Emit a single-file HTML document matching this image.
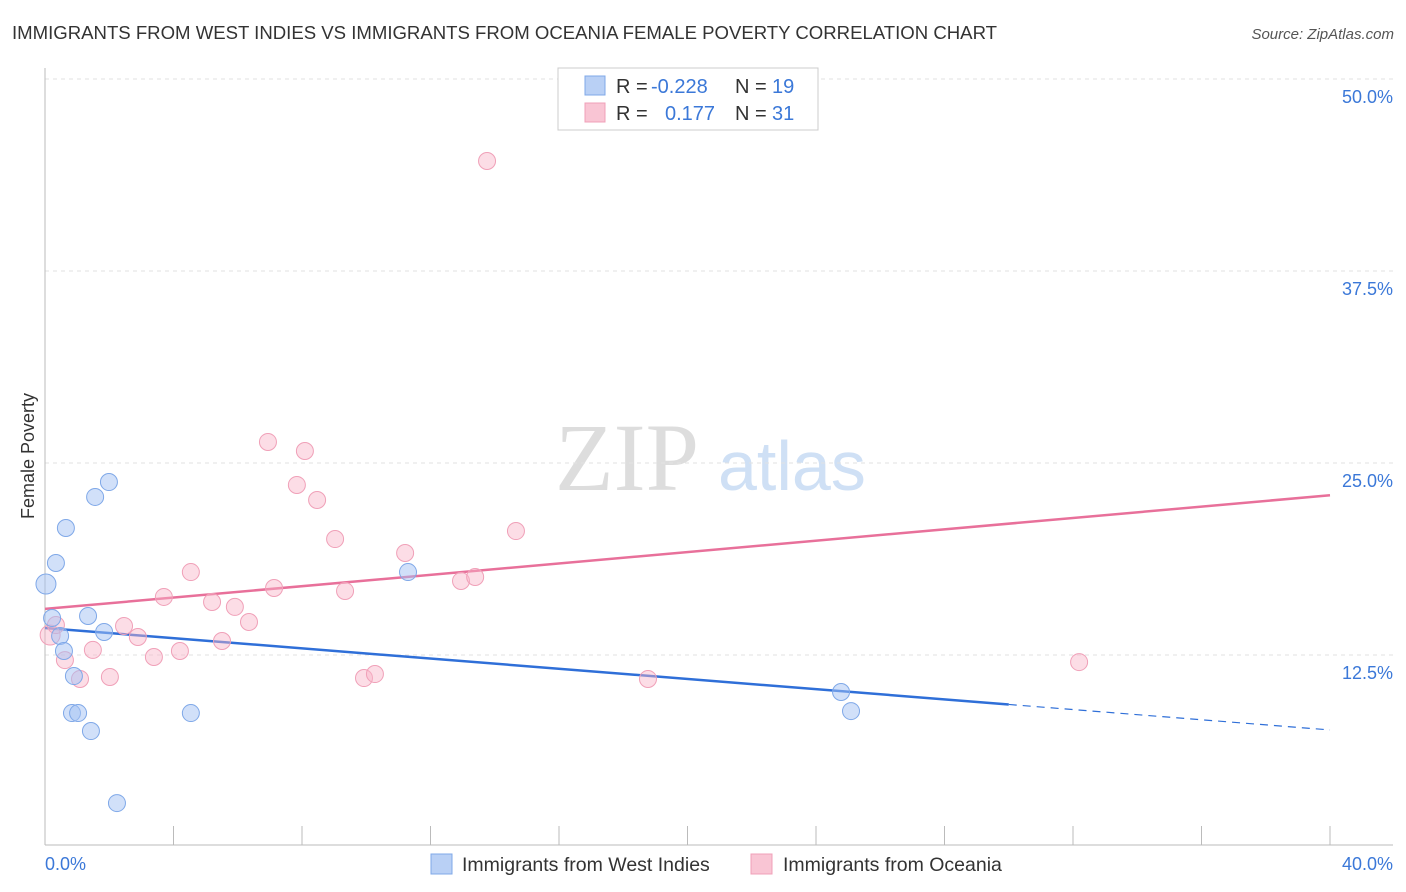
<!DOCTYPE html>
<html><head><meta charset="utf-8"><style>
body{margin:0;background:#fff;font-family:"Liberation Sans",sans-serif}
svg{display:block}
</style></head><body>
<svg id="c" width="1406" height="892">
<text x="12" y="39" font-size="18.6" fill="#333" textLength="985">IMMIGRANTS FROM WEST INDIES VS IMMIGRANTS FROM OCEANIA FEMALE POVERTY CORRELATION CHART</text>
<text x="1394" y="39" font-size="15" fill="#555" font-style="italic" text-anchor="end">Source: ZipAtlas.com</text>
<text x="0" y="0" transform="translate(34,456) rotate(-90)" font-size="18" fill="#333" text-anchor="middle">Female Poverty</text>
<g><text x="555" y="490" font-size="96" font-family="Liberation Serif,serif" fill="#ddd">ZIP</text><text x="718" y="490" font-size="70" fill="#cfe0f5">atlas</text></g>
<g id="grid"></g><g id="axes"></g><g id="lines"></g><g id="pts"></g>
<g>
<rect x="558" y="68" width="260" height="62" fill="#fff" stroke="#ccc"/>
<rect x="585" y="76" width="20" height="19" fill="#b9d0f5" stroke="#7fa8e8"/>
<rect x="585" y="103" width="20" height="19" fill="#f9c5d4" stroke="#f0a0b8"/>
<text y="93" font-size="20" fill="#333"><tspan x="616">R = </tspan><tspan x="651" fill="#3b78d8">-0.228</tspan><tspan x="735">N = </tspan><tspan x="772" fill="#3b78d8">19</tspan></text>
<text y="120" font-size="20" fill="#333"><tspan x="616">R = </tspan><tspan x="665" fill="#3b78d8">0.177</tspan><tspan x="735">N = </tspan><tspan x="772" fill="#3b78d8">31</tspan></text>
</g>
<g>
<rect x="431" y="854" width="21" height="20" fill="#b9d0f5" stroke="#7fa8e8"/>
<text x="462" y="871" font-size="19.5" fill="#333">Immigrants from West Indies</text>
<rect x="751" y="854" width="21" height="20" fill="#f9c5d4" stroke="#f0a0b8"/>
<text x="783" y="871" font-size="19.5" fill="#333">Immigrants from Oceania</text>
</g>
</svg>
<script>
const yTicks=[12.5,25,37.5,50];
const xTickLabels=["0.0%","40.0%"];
const blueX=[0.03,0.22,0.34,0.47,0.59,0.65,0.90,0.84,1.03,1.34,1.43,1.56,1.84,1.99,2.24,4.54,11.30,24.78,25.09];
const blueY=[17.12,14.91,18.49,13.74,12.76,20.77,11.13,8.72,8.72,15.04,7.55,22.79,14.0,23.76,2.86,8.72,17.9,10.09,8.85];
const pinkX=[0.16,0.34,0.62,1.09,1.49,2.02,2.46,2.89,3.39,3.70,4.20,4.54,5.20,5.51,5.91,6.35,6.94,7.13,7.84,8.09,8.47,9.03,9.34,9.93,10.27,11.21,12.95,13.39,13.76,14.66,18.77,32.19];
const pinkY=[13.8,14.45,12.17,10.94,12.83,11.07,14.39,13.67,12.37,16.28,12.76,17.9,15.95,13.41,15.63,14.65,26.37,16.86,23.57,25.78,22.59,20.05,16.67,11.0,11.26,19.14,17.32,17.58,44.66,20.57,10.94,12.04];
const blueTrend=[14.26,7.62];
const pinkTrend=[15.5,22.9];
const blueSolidEnd=30;
const NS="http://www.w3.org/2000/svg";
const X=v=>45+v*32.125, Y=v=>847-v*15.36;
function mk(t,a,p){const e=document.createElementNS(NS,t);for(const k in a)e.setAttribute(k,a[k]);document.getElementById(p).appendChild(e);return e;}
yTicks.forEach(t=>{
 const l=mk('line',{x1:45,x2:1393,y1:Y(t),y2:Y(t),stroke:'#e2e2e2','stroke-dasharray':'4,4'},'grid');
 
 
 const tx=mk('text',{x:1393,y:Y(t)+24,'font-size':18,fill:'#3b78d8','text-anchor':'end'},'grid');tx.textContent=t.toFixed(1)+'%';
 
 
});
const ax=mk('line',{x1:45,x2:45,y1:68,y2:845,stroke:'#bbb'},'axes');


const bx=mk('line',{x1:45,x2:1393,y1:845,y2:845,stroke:'#bbb'},'axes');


for(let i=0;i<=10;i++){const t=mk('line',{x1:X(i*4),x2:X(i*4),y1:826,y2:845,stroke:'#bbb'},'axes');
 
 }
[[0,'start',45],[40,'end',1393]].forEach((d,i)=>{const t=mk('text',{x:d[2],y:870,'font-size':18,fill:'#3b78d8','text-anchor':d[1]},'axes');t.textContent=xTickLabels[i];
 
 });
const by=x=>blueTrend[0]+(blueTrend[1]-blueTrend[0])*x/40;
const pl=mk('line',{x1:X(0),y1:Y(pinkTrend[0]),x2:X(40),y2:Y(pinkTrend[1]),stroke:'#e8709a','stroke-width':2.5},'lines');


const bl=mk('line',{x1:X(0),y1:Y(by(0)),x2:X(blueSolidEnd),y2:Y(by(blueSolidEnd)),stroke:'#2f6fd8','stroke-width':2.5},'lines');


const bd=mk('line',{x1:X(blueSolidEnd),y1:Y(by(blueSolidEnd)),x2:X(40),y2:Y(by(40)),stroke:'#2f6fd8','stroke-width':1.2,'stroke-dasharray':'8,6'},'lines');


pinkX.forEach((x,i)=>{const c=mk('circle',{cx:X(x),cy:Y(pinkY[i]),r:i==0?10:8.5,fill:'rgba(248,180,200,0.45)',stroke:'#f0a0b8','stroke-width':1},'pts');
 
 });
blueX.forEach((x,i)=>{const c=mk('circle',{cx:X(x),cy:Y(blueY[i]),r:i==0?10:8.5,fill:'rgba(164,194,244,0.5)',stroke:'#7fa8e8','stroke-width':1},'pts');
 
 });
</script>
</body></html>
